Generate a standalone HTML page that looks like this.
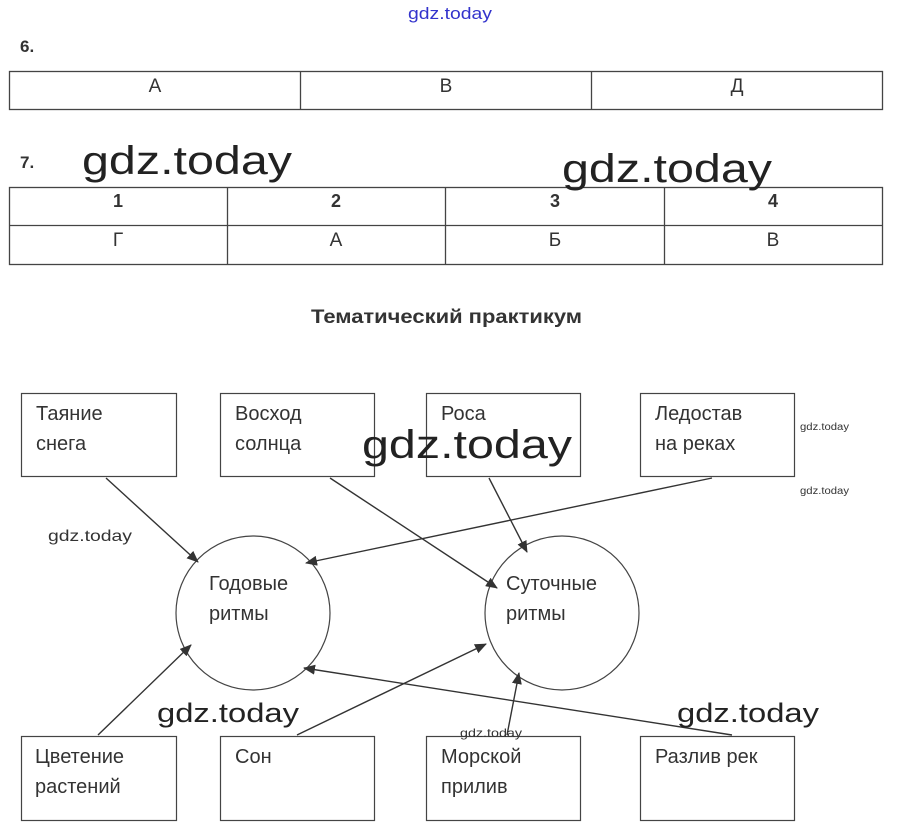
<!DOCTYPE html>
<html><head><meta charset="utf-8"><style>
body{margin:0;background:#fff;width:897px;height:835px;overflow:hidden}
svg{display:block}
text{font-family:"Liberation Sans",sans-serif;fill:#333}
</style></head><body>
<svg width="897" height="835" viewBox="0 0 897 835">
<defs><marker id="a" markerWidth="12" markerHeight="10" refX="11" refY="5" orient="auto" markerUnits="userSpaceOnUse"><path d="M0,0 L12,5 L0,10 z" fill="#333"/></marker></defs>
<text x="408" y="19" font-size="17" textLength="84" lengthAdjust="spacingAndGlyphs" style="fill:#3333cc">gdz.today</text>
<text x="20" y="52" font-size="17" font-weight="bold">6.</text>
<g stroke="#444" stroke-width="1.3" fill="none">
<rect x="9.5" y="71.5" width="873" height="38"/>
<line x1="300.5" y1="71" x2="300.5" y2="110"/><line x1="591.5" y1="71" x2="591.5" y2="110"/>
<rect x="9.5" y="187.5" width="873" height="77"/>
<line x1="9" y1="225.5" x2="883" y2="225.5"/>
<line x1="227.5" y1="187" x2="227.5" y2="265"/><line x1="445.5" y1="187" x2="445.5" y2="265"/><line x1="664.5" y1="187" x2="664.5" y2="265"/>
</g>
<g font-size="19" text-anchor="middle">
<text x="155" y="92">А</text><text x="446" y="92">В</text><text x="737" y="92">Д</text>
<g font-weight="bold" font-size="18"><text x="118" y="207">1</text><text x="336" y="207">2</text><text x="555" y="207">3</text><text x="773" y="207">4</text></g>
<text x="118" y="246">Г</text><text x="336" y="246">А</text><text x="555" y="246">Б</text><text x="773" y="246">В</text>
</g>
<text x="20" y="168" font-size="17" font-weight="bold">7.</text>
<text x="82" y="174" font-size="40" textLength="210" lengthAdjust="spacingAndGlyphs" style="fill:#222">gdz.today</text>
<text x="562" y="182" font-size="40" textLength="210" lengthAdjust="spacingAndGlyphs" style="fill:#222">gdz.today</text>
<text x="311" y="323" font-size="19" font-weight="bold" textLength="271" lengthAdjust="spacingAndGlyphs">Тематический практикум</text>
<g stroke="#444" stroke-width="1.2" fill="none">
<rect x="21.5" y="393.5" width="155" height="83"/><rect x="220.5" y="393.5" width="154" height="83"/>
<rect x="426.5" y="393.5" width="154" height="83"/><rect x="640.5" y="393.5" width="154" height="83"/>
<rect x="21.5" y="736.5" width="155" height="84"/><rect x="220.5" y="736.5" width="154" height="84"/>
<rect x="426.5" y="736.5" width="154" height="84"/><rect x="640.5" y="736.5" width="154" height="84"/>
<circle cx="253" cy="613" r="77"/><circle cx="562" cy="613" r="77"/>
</g>
<g stroke="#333" stroke-width="1.4" marker-end="url(#a)">
<line x1="106" y1="478" x2="198" y2="562"/>
<line x1="330" y1="478" x2="497" y2="588"/>
<line x1="489" y1="478" x2="527" y2="552"/>
<line x1="712" y1="478" x2="306" y2="563"/>
<line x1="98" y1="735" x2="191" y2="645"/>
<line x1="297" y1="735" x2="486" y2="644"/>
<line x1="507" y1="735" x2="519" y2="673"/>
<line x1="732" y1="735" x2="304" y2="668"/>
</g>
<g font-size="20">
<text x="36" y="420">Таяние</text><text x="36" y="450">снега</text>
<text x="235" y="420">Восход</text><text x="235" y="450">солнца</text>
<text x="441" y="420">Роса</text>
<text x="655" y="420">Ледостав</text><text x="655" y="450">на реках</text>
<text x="209" y="590">Годовые</text><text x="209" y="620">ритмы</text>
<text x="506" y="590">Суточные</text><text x="506" y="620">ритмы</text>
<text x="35" y="763">Цветение</text><text x="35" y="793">растений</text>
<text x="235" y="763">Сон</text>
<text x="441" y="763">Морской</text><text x="441" y="793">прилив</text>
<text x="655" y="763">Разлив рек</text>
</g>
<g style="fill:#222">
<text x="362" y="458" font-size="40" textLength="210" lengthAdjust="spacingAndGlyphs" style="fill:#222">gdz.today</text>
<text x="48" y="541" font-size="16" textLength="84" lengthAdjust="spacingAndGlyphs">gdz.today</text>
<text x="800" y="430" font-size="10" textLength="49" lengthAdjust="spacingAndGlyphs">gdz.today</text>
<text x="800" y="494" font-size="10" textLength="49" lengthAdjust="spacingAndGlyphs">gdz.today</text>
<text x="157" y="722" font-size="27" textLength="142" lengthAdjust="spacingAndGlyphs" style="fill:#222">gdz.today</text>
<text x="677" y="722" font-size="27" textLength="142" lengthAdjust="spacingAndGlyphs" style="fill:#222">gdz.today</text>
<text x="460" y="737" font-size="12" textLength="62" lengthAdjust="spacingAndGlyphs">gdz.today</text>
</g>
</svg>
</body></html>
